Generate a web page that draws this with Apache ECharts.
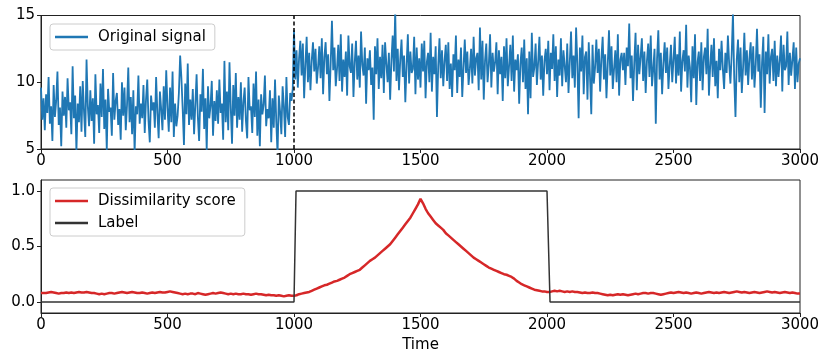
<!DOCTYPE html>
<html style="height: 100%">

<head>
	<meta charset="utf-8">
</head>

<body style="height: 100%; margin: 0">
	<div id="container" style="width: 830px; height: 363px;"></div>

	<script type="text/javascript" src="https://cdn.jsdelivr.net/npm/echarts@6/dist/echarts.min.js"></script>
	<script type="text/javascript">
		// sampling steps (time units between stored points)
		let signalStep = 5;
		let scoreStep = 10;

		// original signal, one value every 5 time units
		let signalValues = [
			9.6, 7.2, 8.8, 6.4, 9.1, 7.7, 10.4, 6.9, 8.2, 5.6, 9.8, 7.4, 8.6, 10.8, 6.8, 8.1, 5.2, 9.3, 7.5, 8.9,
			6.6, 10.3, 7.9, 8.5, 6.1, 11.2, 7.3, 9.0, 4.8, 8.4, 7.0, 9.7, 6.3, 10.1, 7.8, 5.9, 11.7, 8.2, 6.7, 9.4,
			7.1, 8.8, 5.4, 10.6, 7.6, 8.3, 6.2, 9.9, 7.4, 11.0, 6.5, 8.7, 4.9, 9.5, 7.8, 8.1, 6.0, 10.7, 7.2, 8.6,
			9.2, 6.8, 8.0, 5.7, 10.0, 7.5, 9.6, 6.4, 8.3, 11.1, 7.0, 8.9, 6.1, 9.4, 4.7, 8.2, 7.6, 10.5, 6.9, 8.4,
			7.3, 9.8, 6.2, 8.7, 10.2, 7.1, 5.5, 9.0, 7.9, 8.5, 6.6, 10.4, 7.7, 5.8, 9.3, 8.0, 6.4, 9.7, 7.2, 10.9,
			8.1, 6.3, 9.6, 7.0, 10.8, 5.9, 8.4, 6.7, 7.5, 9.2, 12.0, 10.3, 8.0, 5.3, 9.9, 7.6, 11.4, 6.8, 8.7, 7.2,
			9.5, 6.1, 8.3, 10.6, 7.4, 5.6, 9.1, 7.8, 11.0, 6.5, 8.8, 4.9, 9.7, 7.3, 8.2, 10.1, 6.0, 8.6, 7.1, 9.4,
			6.9, 10.2, 7.7, 8.4, 5.7, 11.6, 7.0, 9.3, 6.4, 11.5, 8.1, 5.4, 9.8, 7.5, 10.7, 6.6, 8.9, 7.2, 10.0, 6.3,
			8.5, 9.6, 7.1, 5.8, 10.4, 7.9, 8.2, 6.2, 9.9, 7.4, 10.8, 6.0, 8.7, 5.2, 9.1, 7.6, 8.3, 10.5, 6.7, 8.0,
			7.3, 9.4, 5.5, 8.8, 6.6, 10.2, 7.0, 4.6, 9.0, 7.8, 6.1, 9.7, 8.2, 5.9, 10.4, 7.4, 6.8, 9.2, 8.6, 9.5,
			13.9, 10.2, 12.4, 9.6, 11.8, 13.1, 10.5, 12.9, 8.8, 11.3, 13.4, 10.0, 12.2, 9.4, 11.6, 13.0, 10.8, 12.5, 9.9, 11.1,
			12.7, 10.3, 13.3, 9.1, 11.9, 13.0, 10.6, 12.1, 8.6, 11.4, 14.6, 10.9, 12.6, 9.7, 11.0, 12.8, 10.1, 13.6, 9.3, 11.7,
			10.4, 12.3, 9.0, 13.5, 11.2, 10.7, 12.9, 8.9, 11.5, 13.1, 10.2, 12.0, 9.6, 13.8, 11.3, 10.5, 12.6, 8.4, 11.8, 10.9,
			12.4, 9.8, 11.1, 7.2, 12.7, 10.6, 13.3, 9.5, 11.9, 10.3, 12.8, 9.2, 13.0, 11.4, 10.0, 12.2, 8.7, 11.6, 13.5, 10.8,
			15.4, 10.1, 12.5, 9.4, 11.7, 13.2, 10.4, 12.0, 8.5, 11.3, 13.6, 9.9, 12.3, 10.7, 11.0, 13.4, 9.1, 12.6, 10.2, 11.8,
			9.6, 12.9, 10.8, 13.1, 8.8, 11.5, 12.2, 10.0, 13.7, 9.3, 11.9, 10.6, 12.7, 7.4, 11.2, 13.3, 10.3, 12.4, 9.7, 11.6,
			12.8, 10.1, 13.0, 9.5, 11.4, 8.9, 12.1, 10.9, 13.5, 9.2, 11.7, 10.4, 12.6, 8.9, 11.1, 13.2, 10.7, 12.3, 9.8, 11.0,
			12.5, 9.9, 13.4, 10.5, 11.8, 12.2, 9.4, 14.1, 10.2, 13.1, 8.7, 11.6, 12.9, 10.0, 11.3, 13.6, 9.6, 12.2, 10.8, 11.5,
			13.0, 9.1, 12.4, 10.6, 11.9, 8.6, 12.7, 10.3, 13.3, 9.7, 11.2, 12.8, 10.1, 13.5, 9.3, 11.7, 10.9, 12.1, 8.4, 11.4,
			12.6, 10.0, 13.2, 9.5, 11.8, 7.6, 12.3, 8.8, 13.7, 10.4, 11.1, 12.9, 9.8, 11.5, 13.4, 10.2, 12.0, 9.0, 11.6, 12.5,
			10.6, 13.1, 9.4, 12.2, 11.0, 13.6, 10.1, 12.7, 8.9, 11.7, 10.5, 13.3, 9.7, 12.4, 11.2, 10.0, 12.9, 9.2, 11.5, 13.8,
			10.3, 12.0, 9.6, 14.1, 11.4, 7.3, 12.6, 10.8, 13.5, 9.1, 11.9, 12.3, 8.7, 13.0, 10.4, 7.6, 12.8, 9.9, 11.1, 13.2,
			10.7, 12.5, 9.3, 11.8, 13.4, 10.2, 12.1, 8.8, 11.3, 13.9, 10.5, 12.7, 9.5, 11.0, 12.4, 10.0, 13.6, 9.0, 11.7, 12.2,
			10.9, 12.2, 9.8, 12.6, 11.2, 14.4, 10.3, 12.0, 8.6, 11.5, 13.7, 9.4, 12.8, 10.6, 11.9, 13.3, 10.1, 12.3, 9.2, 11.6,
			12.9, 10.4, 13.5, 9.7, 11.0, 12.5, 6.9, 11.8, 13.9, 10.2, 12.2, 9.1, 11.4, 13.0, 10.7, 12.6, 9.5, 11.3, 12.8, 10.0,
			11.7, 13.4, 9.9, 12.1, 10.5, 13.8, 9.3, 11.6, 12.4, 10.8, 14.3, 9.6, 12.0, 11.1, 8.5, 12.7, 10.3, 13.6, 8.3, 11.5,
			12.3, 10.1, 13.0, 9.4, 11.9, 12.6, 10.6, 14.0, 9.0, 11.2, 12.8, 10.4, 13.3, 9.7, 11.6, 8.8, 12.5, 10.9, 13.1, 11.0,
			9.5, 12.2, 10.7, 13.5, 11.4, 9.9, 12.1, 15.2, 10.3, 7.4, 11.7, 13.2, 10.0, 12.6, 9.2, 11.1, 13.7, 10.5, 12.4, 9.8,
			11.8, 13.0, 10.2, 12.7, 9.6, 11.3, 14.0, 10.8, 12.1, 8.1, 11.5, 13.4, 7.7, 12.3, 10.6, 13.6, 9.9, 11.9, 12.5, 10.1,
			13.1, 9.7, 12.0, 10.4, 11.6, 13.5, 9.3, 12.8, 10.9, 11.2, 13.8, 9.8, 12.2, 10.5, 11.7, 13.0, 9.5, 12.6, 10.0, 11.4,
			11.8
		];

		// dissimilarity score, one value every 10 time units
		let scoreValues = [
			.08, .08, .08, .085, .09, .085, .08, .075, .08, .08,
			.085, .08, .085, .08, .085, .09, .085, .085, .09, .085,
			.08, .08, .075, .07, .075, .07, .075, .08, .08, .075,
			.08, .085, .09, .085, .08, .085, .09, .085, .08, .08,
			.085, .08, .075, .08, .085, .08, .085, .09, .085, .085,
			.09, .095, .09, .085, .08, .075, .07, .075, .07, .075,
			.075, .07, .08, .075, .07, .065, .07, .075, .08, .075,
			.08, .085, .08, .075, .07, .075, .07, .075, .07, .07,
			.075, .07, .07, .065, .07, .075, .07, .07, .065, .06,
			.065, .06, .06, .055, .06, .055, .05, .055, .06, .055,
			.055, .06, .07, .075, .08, .085, .09, .1, .11, .12,
			.13, .14, .15, .155, .165, .175, .185, .19, .2, .21,
			.22, .235, .25, .26, .27, .28, .29, .31, .33, .35,
			.37, .385, .4, .42, .44, .46, .48, .5, .52, .55,
			.58, .61, .64, .67, .7, .73, .76, .8, .84, .88,
			.93, .89, .84, .8, .77, .74, .71, .69, .67, .65,
			.62, .6, .58, .56, .54, .52, .5, .48, .46, .44,
			.42, .4, .385, .37, .355, .34, .325, .31, .3, .29,
			.28, .27, .26, .25, .245, .235, .225, .21, .19, .175,
			.16, .15, .14, .13, .12, .11, .105, .1, .095, .095,
			.09, .09, .095, .1, .095, .1, .095, .09, .095, .09,
			.095, .09, .09, .085, .08, .085, .08, .08, .085, .08,
			.08, .075, .07, .065, .06, .065, .06, .065, .07, .065,
			.07, .065, .06, .065, .07, .075, .07, .075, .08, .08,
			.075, .08, .08, .075, .07, .065, .07, .075, .08, .085,
			.08, .085, .09, .085, .08, .085, .08, .075, .08, .085,
			.08, .075, .08, .085, .09, .085, .08, .085, .08, .085,
			.09, .085, .08, .085, .09, .095, .09, .085, .09, .085,
			.08, .085, .09, .085, .08, .085, .09, .095, .09, .085,
			.09, .085, .08, .085, .09, .085, .08, .085, .08, .075,
			.075
		];

		// ground-truth label (step)
		let labelTimes = [0, 1000, 1008, 2000, 2012, 3000];
		let labelValues = [0, 0, 1, 1, 0, 0];

		let changePoint = 1000;
		let scoreTicks = [0, 0.5, 1.0];

		let dom = document.getElementById("container");
		let myChart = echarts.init(dom);
		let font = 'DejaVu Sans';

		let signalData = signalValues.map((v, i) => [i * signalStep, v]);
		let scoreData = scoreValues.map((v, i) => [i * scoreStep, v]);
		let labelData = labelTimes.map((t, i) => [t, labelValues[i]]);

		function xAxisFor(gridIndex, name) {
			return {
				type: 'value',
				gridIndex: gridIndex,
				min: 0,
				max: 3000,
				interval: 500,
				name: name,
				nameLocation: 'middle',
				nameGap: 25,
				nameTextStyle: { fontFamily: font, fontSize: 15, color: '#000' },
				axisLine: { show: true, onZero: false, lineStyle: { color: '#222', width: 1 } },
				axisTick: { show: true, length: 4, lineStyle: { color: '#222', width: 1 } },
				axisLabel: { margin: 5, fontFamily: font, fontSize: 15, color: '#000', formatter: v => String(v) },
				splitLine: { show: false }
			};
		}

		let legendCommon = {
			orient: 'vertical',
			left: 50,
			icon: 'rect',
			itemWidth: 33,
			itemHeight: 2.5,
			itemGap: 4,
			padding: [4, 9, 4, 5],
			borderColor: '#cccccc',
			borderWidth: 1,
			borderRadius: 3,
			backgroundColor: 'rgba(255,255,255,0.8)',
			textStyle: { fontFamily: font, fontSize: 15, color: '#000', padding: [0, 0, 0, 5], lineHeight: 18 }
		};

		let option = {
			animation: false,
			grid: [
				{ left: 41, right: 30, top: 15.5, height: 133.5, show: true, borderColor: '#222', borderWidth: 1 },
				{ left: 41, right: 30, top: 180, height: 133, show: true, borderColor: '#222', borderWidth: 1 }
			],
			legend: [
				Object.assign({}, legendCommon, { top: 24, data: ['Original signal'] }),
				Object.assign({}, legendCommon, { top: 188, data: ['Dissimilarity score', 'Label'] })
			],
			xAxis: [xAxisFor(0, ''), xAxisFor(1, 'Time')],
			yAxis: [
				{
					type: 'value',
					gridIndex: 0,
					min: 5,
					max: 15,
					interval: 5,
					axisLine: { show: true, lineStyle: { color: '#222', width: 1 } },
					axisTick: { show: true, length: 4, lineStyle: { color: '#222', width: 1 } },
					axisLabel: { margin: 6, fontFamily: font, fontSize: 15, color: '#000' },
					splitLine: { show: false }
				},
				{
					type: 'value',
					gridIndex: 1,
					min: -0.1,
					max: 1.1,
					axisLine: { show: true, lineStyle: { color: '#222', width: 1 } },
					axisTick: { show: true, length: 4, customValues: scoreTicks, lineStyle: { color: '#222', width: 1 } },
					axisLabel: {
						margin: 6, fontFamily: font, fontSize: 15, color: '#000',
						customValues: scoreTicks,
						formatter: v => v.toFixed(1)
					},
					splitLine: { show: false }
				}
			],
			series: [
				{
					name: 'Original signal',
					type: 'line',
					xAxisIndex: 0,
					yAxisIndex: 0,
					data: signalData,
					showSymbol: false,
					symbol: 'none',
					clip: true,
					color: '#1f77b4',
					lineStyle: { color: '#1f77b4', width: 1.8 },
					markLine: {
						silent: true,
						symbol: ['none', 'none'],
						label: { show: false },
						lineStyle: { color: '#000', width: 1.5, type: [4, 2.5] },
						data: [{ xAxis: changePoint }]
					}
				},
				{
					name: 'Dissimilarity score',
					type: 'line',
					xAxisIndex: 1,
					yAxisIndex: 1,
					data: scoreData,
					symbol: 'none',
					color: '#d62728',
					lineStyle: { color: '#d62728', width: 2.5 }
				},
				{
					name: 'Label',
					type: 'line',
					xAxisIndex: 1,
					yAxisIndex: 1,
					data: labelData,
					symbol: 'none',
					color: '#333333',
					lineStyle: { color: '#333333', width: 1.5 }
				}
			]
		};

		myChart.setOption(option, true);
	</script>
</body>

</html>
